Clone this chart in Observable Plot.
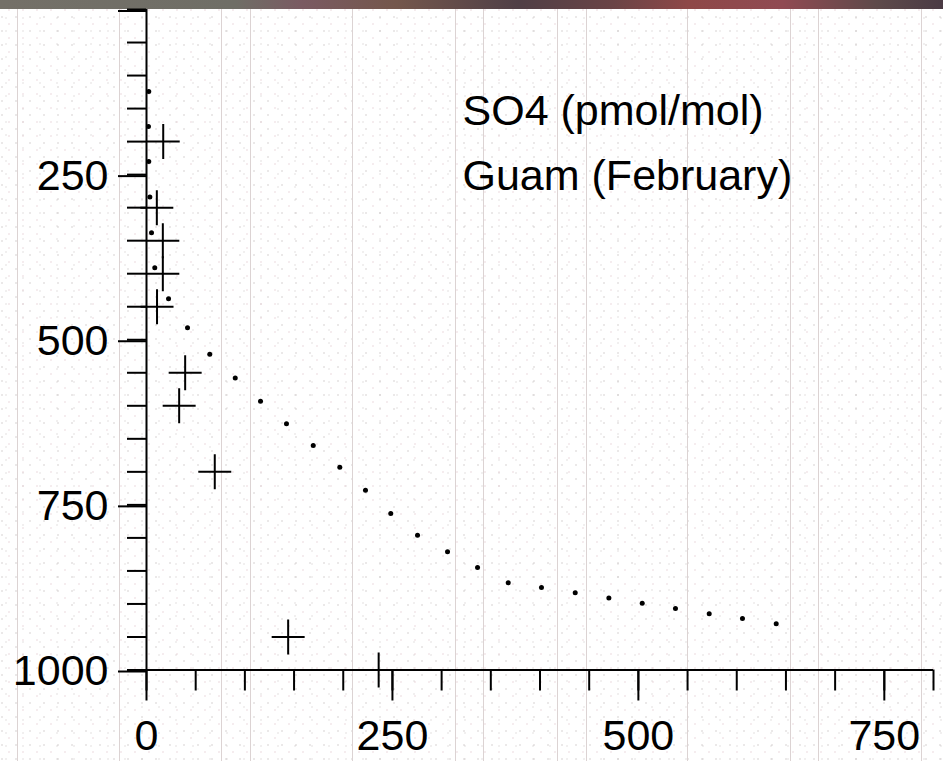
<!DOCTYPE html>
<html>
<head>
<meta charset="utf-8">
<script src="https://cdn.jsdelivr.net/npm/d3@7"></script>
<script src="https://cdn.jsdelivr.net/npm/@observablehq/plot@0.6"></script>
<style>
  html, body { margin: 0; padding: 0; background: #fff; }
  #chart {
    position: relative; width: 943px; height: 761px; overflow: hidden;
    background-color: #fff;
    background-image:
      linear-gradient(to right, #747068 0%, #6f6e66 25%, #7a5a62 32%, #74574c 42%, #503f46 55%, #6a4446 65%, #8e4848 73%, #904a52 83%, #5e4a4a 93%, #4a3a44 100%),
      linear-gradient(#dcd3d3,#dcd3d3), linear-gradient(#dcd3d3,#dcd3d3), linear-gradient(#dcd3d3,#dcd3d3),
      linear-gradient(#dcd3d3,#dcd3d3), linear-gradient(#dcd3d3,#dcd3d3), linear-gradient(#dcd3d3,#dcd3d3),
      linear-gradient(#dcd3d3,#dcd3d3), linear-gradient(#dcd3d3,#dcd3d3), linear-gradient(#dcd3d3,#dcd3d3),
      linear-gradient(#dcd3d3,#dcd3d3), linear-gradient(#dcd3d3,#dcd3d3), linear-gradient(#dcd3d3,#dcd3d3),
      linear-gradient(#dcd3d3,#dcd3d3),
      radial-gradient(circle at 2px 3px, rgba(170,160,160,0.32) 0.6px, transparent 1px),
      radial-gradient(circle at 9px 10px, rgba(210,170,180,0.3) 0.6px, transparent 1px),
      radial-gradient(circle at 6px 5px, rgba(180,170,170,0.24) 0.6px, transparent 1px);
    background-size:
      100% 9px,
      1px 100%, 1px 100%, 1px 100%, 1px 100%, 1px 100%, 1px 100%, 1px 100%,
      1px 100%, 1px 100%, 1px 100%, 1px 100%, 1px 100%, 1px 100%,
      14px 14px, 14px 14px, 17px 13px;
    background-position:
      0 0,
      17px 0, 119px 0, 221px 0, 250px 0, 352px 0, 455px 0, 483px 0,
      557px 0, 586px 0, 687px 0, 790px 0, 818px 0, 921px 0,
      0 0, 0 0, 0 0;
    background-repeat:
      no-repeat,
      no-repeat, no-repeat, no-repeat, no-repeat, no-repeat, no-repeat, no-repeat,
      no-repeat, no-repeat, no-repeat, no-repeat, no-repeat, no-repeat,
      repeat, repeat, repeat;
  }
  #chart svg { position: absolute; left: 0; top: 0; }
</style>
</head>
<body>
<div id="chart"></div>
<script>
// Model profile (dots): SO4 mixing ratio vs pressure
const modelSO4 = [2.3, 2.0, 2.3, 3.4, 5.1, 8.4, 22.4, 41.7, 64.3, 90.2, 115.9, 142.3, 169.5, 196.5, 222.6, 248.3, 275.5, 306, 336.5, 367.7, 401.5, 435.8, 470, 503.9, 537.7, 572, 605.8, 640.1];
const modelPressure = [124, 177, 230, 284, 338, 391, 438, 482, 522, 558, 593, 627, 660, 693, 728, 763, 796, 821, 845, 868, 875, 883, 891, 899, 907, 915, 922, 930];
// Observations (crosses)
const obsSO4 = [17, 10.5, 16.6, 16.6, 10.7, 39.3, 33.2, 69.4, 144, 236];
const obsPressure = [200, 300, 350, 400, 450, 550, 600, 700, 950, 1000];
// Axis ticks and labels
const xMajorTicks = [0, 250, 500, 750];
const xMinorTicks = d3.range(0, 801, 50);
const yMajorTicks = [0, 250, 500, 750, 1000];
const yMinorTicks = d3.range(0, 1001, 50);
const annotationLines = ["SO4 (pmol/mol)", "Guam (February)"];

const model = modelSO4.map((v, i) => ({so4: v, p: modelPressure[i]}));
const obs = obsSO4.map((v, i) => ({so4: v, p: obsPressure[i]}));

const plusSymbol = {
  draw(ctx, size) {
    const R = Math.sqrt(size / Math.PI);
    const h = R * 0.97, v = R * 1.03;
    ctx.moveTo(-h, 0); ctx.lineTo(h, 0);
    ctx.moveTo(0, -v); ctx.lineTo(0, v);
  }
};

const FONT = "'Liberation Sans', Arial, Helvetica, sans-serif";

const chart = Plot.plot({
  width: 943,
  height: 761,
  marginLeft: 146,
  marginRight: 10,
  marginTop: 9,
  marginBottom: 91.5,
  style: {fontFamily: FONT, fontSize: "43px", background: "transparent", color: "black", overflow: "visible"},
  x: {domain: [0, 800], axis: null, label: null},
  y: {domain: [0, 1000], reverse: true, axis: null, label: null},
  marks: [
    Plot.axisY(yMinorTicks, {anchor: "left", label: null, tickSize: 19, tickFormat: () => "", strokeWidth: 2, stroke: "black"}),
    Plot.axisY(yMajorTicks, {anchor: "left", label: null, tickSize: 28, tickPadding: 10, strokeWidth: 2, stroke: "black",
      tickFormat: d => d === 0 ? "" : String(d), fontSize: 43, fill: "black", dy: 1.5}),
    Plot.axisX(xMinorTicks, {anchor: "bottom", label: null, tickSize: 21, tickFormat: () => "", strokeWidth: 2, stroke: "black"}),
    Plot.axisX(xMajorTicks, {anchor: "bottom", label: null, tickSize: 31, tickPadding: 18, strokeWidth: 2, stroke: "black",
      tickFormat: d => String(d), fontSize: 43, fill: "black"}),
    Plot.ruleX([0], {stroke: "black", strokeWidth: 2}),
    Plot.ruleY([1000], {stroke: "black", strokeWidth: 2}),
    Plot.dot(model, {x: "so4", y: "p", r: 2.5, fill: "black", stroke: "none"}),
    Plot.dot(obs, {x: "so4", y: "p", r: 17, symbol: plusSymbol, fill: "none", stroke: "black", strokeWidth: 2}),
    Plot.text([annotationLines.join("\n")], {
      frameAnchor: "top-left", textAnchor: "start", lineAnchor: "top",
      dx: 316, dy: 69, fontSize: 43, lineHeight: 65 / 43, fill: "black"
    })
  ]
});

document.getElementById("chart").appendChild(chart);
</script>
</body>
</html>
